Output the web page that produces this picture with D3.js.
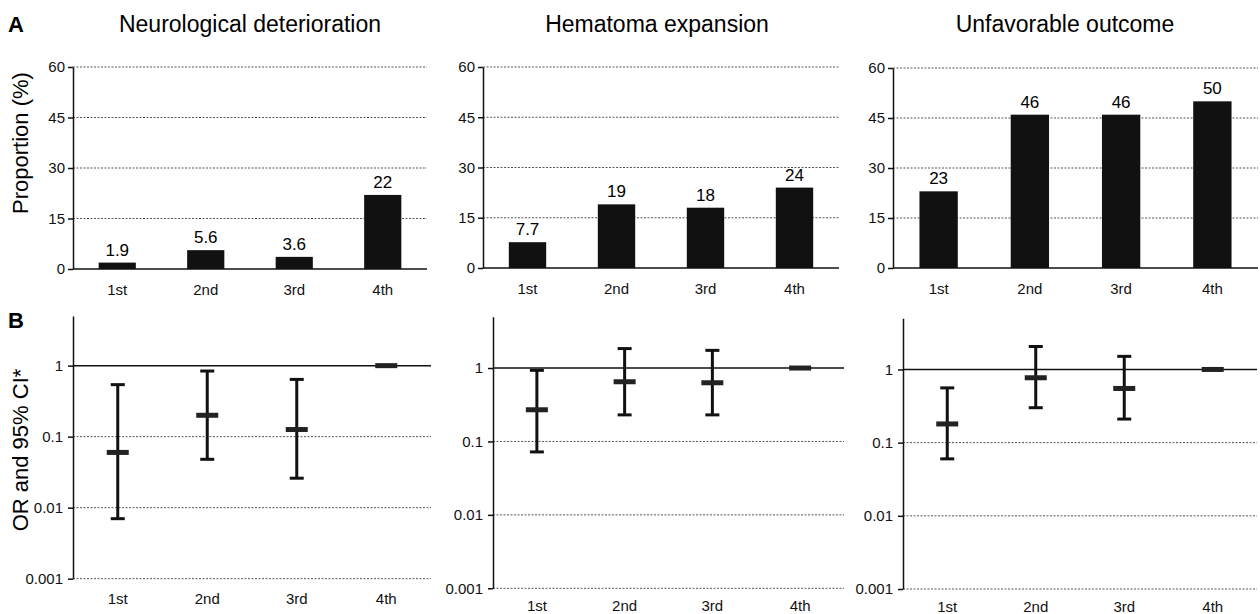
<!DOCTYPE html>
<html>
<head>
<meta charset="utf-8">
<script src="https://cdn.jsdelivr.net/npm/d3@7"></script>
<style>
  html, body { margin: 0; padding: 0; background: #fff; }
  svg { display: block; font-family: "Liberation Sans", Arial, Helvetica, sans-serif; }
</style>
</head>
<body>
<svg id="chart" width="1260" height="614"></svg>
<script>
// ---------- DATA ----------
const categories = ["1st", "2nd", "3rd", "4th"];
const panelTitles = ["Neurological deterioration", "Hematoma expansion", "Unfavorable outcome"];

const neuroProp = [1.9, 5.6, 3.6, 22];
const hemaProp  = [7.7, 19, 18, 24];
const unfavProp = [23, 46, 46, 50];

const neuroOR = [0.06, 0.2, 0.126, 1];
const neuroLo = [0.007, 0.048, 0.026, null];
const neuroHi = [0.54, 0.84, 0.64, null];

const hemaOR = [0.27, 0.65, 0.63, 1];
const hemaLo = [0.072, 0.23, 0.23, null];
const hemaHi = [0.93, 1.84, 1.74, null];

const unfavOR = [0.18, 0.77, 0.55, 1];
const unfavLo = [0.06, 0.30, 0.21, null];
const unfavHi = [0.56, 2.06, 1.51, null];

const propTicks = [0, 15, 30, 45, 60];
const orTicks = [0.001, 0.01, 0.1, 1];
const orTickLabels = ["0.001", "0.01", "0.1", "1"];

// ---------- LAYOUT ----------
const svg = d3.select("#chart");
const black = "#111";
const gridColor = "#555";

const aLayout = [
  {x0: 73,  x1: 427,  yTop: 67, yBot: 269, tx: 250},
  {x0: 483, x1: 839,  yTop: 67, yBot: 268, tx: 657},
  {x0: 893, x1: 1258, yTop: 68, yBot: 268, tx: 1065}
];
const bLayout = [
  {x0: 73,  x1: 431,  yTop: 316,   yBot: 578.7, lp: 15},
  {x0: 493, x1: 844,  yTop: 316.7, yBot: 588.3, lp: 12},
  {x0: 903, x1: 1257, yTop: 318.3, yBot: 589,   lp: 12}
];

const propSeries = [neuroProp, hemaProp, unfavProp];
const orSeries = [
  {or: neuroOR, lo: neuroLo, hi: neuroHi},
  {or: hemaOR, lo: hemaLo, hi: hemaHi},
  {or: unfavOR, lo: unfavLo, hi: unfavHi}
];

// Panel letters and y titles
svg.append("text").attr("x", 8).attr("y", 32).attr("font-size", 22).attr("font-weight", "bold").text("A");
svg.append("text").attr("x", 8).attr("y", 328).attr("font-size", 22).attr("font-weight", "bold").text("B");
svg.append("text").attr("transform", "translate(28,143) rotate(-90)").attr("text-anchor", "middle")
  .attr("font-size", 22).text("Proportion (%)");
svg.append("text").attr("transform", "translate(28,450) rotate(-90)").attr("text-anchor", "middle")
  .attr("font-size", 22).text("OR and 95% CI*");

// ---------- PANEL A: bars ----------
aLayout.forEach((L, i) => {
  const g = svg.append("g");
  const x = d3.scaleBand().domain(categories).range([L.x0, L.x1]).padding(0);
  const y = d3.scaleLinear().domain([0, 60]).range([L.yBot, L.yTop]);
  const bw = x.bandwidth() * 0.42;

  g.append("text").attr("x", L.tx).attr("y", 32).attr("text-anchor", "middle")
    .attr("font-size", 23).text(panelTitles[i]);

  // grid
  g.selectAll("line.grid").data(propTicks.filter(t => t > 0)).join("line")
    .attr("x1", L.x0).attr("x2", L.x1)
    .attr("y1", d => y(d)).attr("y2", d => y(d))
    .attr("stroke", gridColor).attr("stroke-width", 1).attr("stroke-dasharray", "2,1.5");

  // bars
  const data = propSeries[i];
  g.selectAll("rect.bar").data(data).join("rect")
    .attr("x", (d, j) => x(categories[j]) + (x.bandwidth() - bw) / 2)
    .attr("width", bw)
    .attr("y", d => y(d))
    .attr("height", d => y(0) - y(d))
    .attr("fill", black);

  g.selectAll("text.val").data(data).join("text")
    .attr("x", (d, j) => x(categories[j]) + x.bandwidth() / 2)
    .attr("y", d => y(d) - 7)
    .attr("text-anchor", "middle").attr("font-size", 17)
    .text(d => String(d));

  // baseline
  g.append("line").attr("x1", L.x0).attr("x2", L.x1).attr("y1", y(0)).attr("y2", y(0))
    .attr("stroke", black).attr("stroke-width", 1.5);

  // y axis
  const ya = g.append("g").attr("transform", `translate(${L.x0},0)`)
    .call(d3.axisLeft(y).tickValues(propTicks).tickSize(5).tickSizeOuter(0).tickPadding(3));
  ya.selectAll("path, line").attr("stroke", black).attr("stroke-width", 1.5);
  ya.selectAll("text").attr("font-size", 15).attr("fill", black).attr("font-family", null);

  // x axis
  const xa = g.append("g").attr("transform", `translate(0,${L.yBot})`)
    .call(d3.axisBottom(x).tickSize(0).tickPadding(15));
  xa.select("path.domain").remove();
  xa.selectAll("text").attr("font-size", 15).attr("fill", black).attr("font-family", null);
});

// ---------- PANEL B: OR with CI ----------
bLayout.forEach((L, i) => {
  const g = svg.append("g");
  const x = d3.scaleBand().domain(categories).range([L.x0, L.x1]).padding(0);
  const y = d3.scaleLog().domain([0.001, 5]).range([L.yBot, L.yTop]);
  const S = orSeries[i];
  const cx = j => x(categories[j]) + x.bandwidth() / 2;

  // dotted grid
  g.selectAll("line.grid").data(orTicks.filter(t => t < 1)).join("line")
    .attr("x1", L.x0).attr("x2", L.x1)
    .attr("y1", d => y(d)).attr("y2", d => y(d))
    .attr("stroke", gridColor).attr("stroke-width", 1).attr("stroke-dasharray", "2,1.5");
  // reference line at 1
  g.append("line").attr("x1", L.x0).attr("x2", L.x1).attr("y1", y(1)).attr("y2", y(1))
    .attr("stroke", black).attr("stroke-width", 1.5);

  const idx = d3.range(categories.length);
  const ci = idx.filter(j => S.lo[j] != null);

  // vertical CI lines
  g.selectAll("line.ci").data(ci).join("line")
    .attr("x1", j => cx(j)).attr("x2", j => cx(j))
    .attr("y1", j => y(S.lo[j])).attr("y2", j => y(S.hi[j]))
    .attr("stroke", black).attr("stroke-width", 3);
  // caps
  ["lo", "hi"].forEach(k => {
    g.selectAll("line.cap" + k).data(ci).join("line")
      .attr("x1", j => cx(j) - 7).attr("x2", j => cx(j) + 7)
      .attr("y1", j => y(S[k][j])).attr("y2", j => y(S[k][j]))
      .attr("stroke", black).attr("stroke-width", 3);
  });
  // OR marks
  g.selectAll("rect.or").data(idx).join("rect")
    .attr("x", j => cx(j) - 11).attr("width", 22)
    .attr("y", j => y(S.or[j]) - 2.5).attr("height", 5)
    .attr("fill", "#222");

  // y axis
  const ya = g.append("g").attr("transform", `translate(${L.x0},0)`)
    .call(d3.axisLeft(y).tickValues(orTicks).tickFormat((d, k) => orTickLabels[k])
      .tickSize(5).tickSizeOuter(0).tickPadding(5));
  ya.selectAll("path, line").attr("stroke", black).attr("stroke-width", 1.5);
  ya.selectAll("text").attr("font-size", 15).attr("fill", black).attr("font-family", null);

  // x axis labels
  const xa = g.append("g").attr("transform", `translate(0,${L.yBot})`)
    .call(d3.axisBottom(x).tickSize(0).tickPadding(L.lp));
  xa.select("path.domain").remove();
  xa.selectAll("text").attr("font-size", 15).attr("fill", black).attr("font-family", null);
});
</script>
</body>
</html>
